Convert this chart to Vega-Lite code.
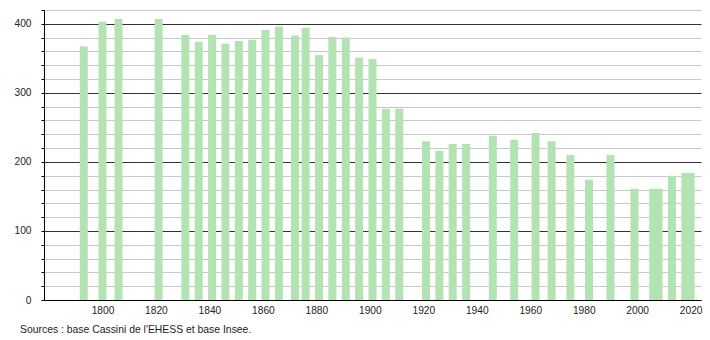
{
  "$schema": "https://vega.github.io/schema/vega-lite/v6.json",
  "width": 657,
  "height": 290,
  "autosize": {"type": "none"},
  "padding": {"left": 44, "top": 10, "right": 9, "bottom": 40},
  "background": "white",
  "config": {
    "view": {"stroke": null},
    "font": "Liberation Sans",
    "axis": {"labelFont": "Liberation Sans", "labelFontSize": 10.2, "labelColor": "#222"}
  },
  "title": {
    "text": "Sources : base Cassini de l'EHESS et base Insee.",
    "orient": "bottom",
    "anchor": "start",
    "frame": "group",
    "dx": -24,
    "offset": 10,
    "fontSize": 10.4,
    "fontWeight": "normal",
    "font": "Liberation Sans",
    "color": "#222"
  },
  "data": {
    "values": [
      {"year": 1793, "pop": 367},
      {"year": 1800, "pop": 403},
      {"year": 1806, "pop": 407},
      {"year": 1821, "pop": 407},
      {"year": 1831, "pop": 384},
      {"year": 1836, "pop": 374},
      {"year": 1841, "pop": 384},
      {"year": 1846, "pop": 371},
      {"year": 1851, "pop": 375},
      {"year": 1856, "pop": 377},
      {"year": 1861, "pop": 391},
      {"year": 1866, "pop": 396},
      {"year": 1872, "pop": 383},
      {"year": 1876, "pop": 394},
      {"year": 1881, "pop": 355},
      {"year": 1886, "pop": 381},
      {"year": 1891, "pop": 380},
      {"year": 1896, "pop": 351},
      {"year": 1901, "pop": 349},
      {"year": 1906, "pop": 277},
      {"year": 1911, "pop": 277},
      {"year": 1921, "pop": 230},
      {"year": 1926, "pop": 216},
      {"year": 1931, "pop": 226},
      {"year": 1936, "pop": 226},
      {"year": 1946, "pop": 238},
      {"year": 1954, "pop": 232},
      {"year": 1962, "pop": 242},
      {"year": 1968, "pop": 230},
      {"year": 1975, "pop": 210},
      {"year": 1982, "pop": 174},
      {"year": 1990, "pop": 210},
      {"year": 1999, "pop": 161},
      {"year": 2006, "pop": 161},
      {"year": 2008, "pop": 161},
      {"year": 2013, "pop": 180},
      {"year": 2018, "pop": 184},
      {"year": 2020, "pop": 184}
    ]
  },
  "mark": {"type": "bar", "width": 8, "color": "#b3e3b3"},
  "encoding": {
    "x": {
      "field": "year",
      "type": "quantitative",
      "scale": {"domain": [1780, 2022], "nice": false, "zero": false},
      "axis": {
        "title": null,
        "values": [1800, 1820, 1840, 1860, 1880, 1900, 1920, 1940, 1960, 1980, 2000, 2020],
        "format": "d",
        "grid": false,
        "ticks": false,
        "domainColor": "#000",
        "domainWidth": 1,
        "labelPadding": 5,
        "labelFlush": true
      }
    },
    "y": {
      "field": "pop",
      "type": "quantitative",
      "scale": {"domain": [0, 420], "nice": false},
      "axis": {
        "title": null,
        "values": [0, 20, 40, 60, 80, 100, 120, 140, 160, 180, 200, 220, 240, 260, 280, 300, 320, 340, 360, 380, 400, 420],
        "labelExpr": "datum.value % 100 === 0 ? datum.label : ''",
        "grid": true,
        "gridColor": {"condition": {"test": "datum.value % 100 === 0", "value": "#333"}, "value": "#c8c8c8"},
        "gridWidth": 1,
        "tickColor": "#000",
        "tickSize": 3,
        "domainColor": "#000",
        "labelPadding": 10,
        "labelFlush": false
      }
    }
  }
}
